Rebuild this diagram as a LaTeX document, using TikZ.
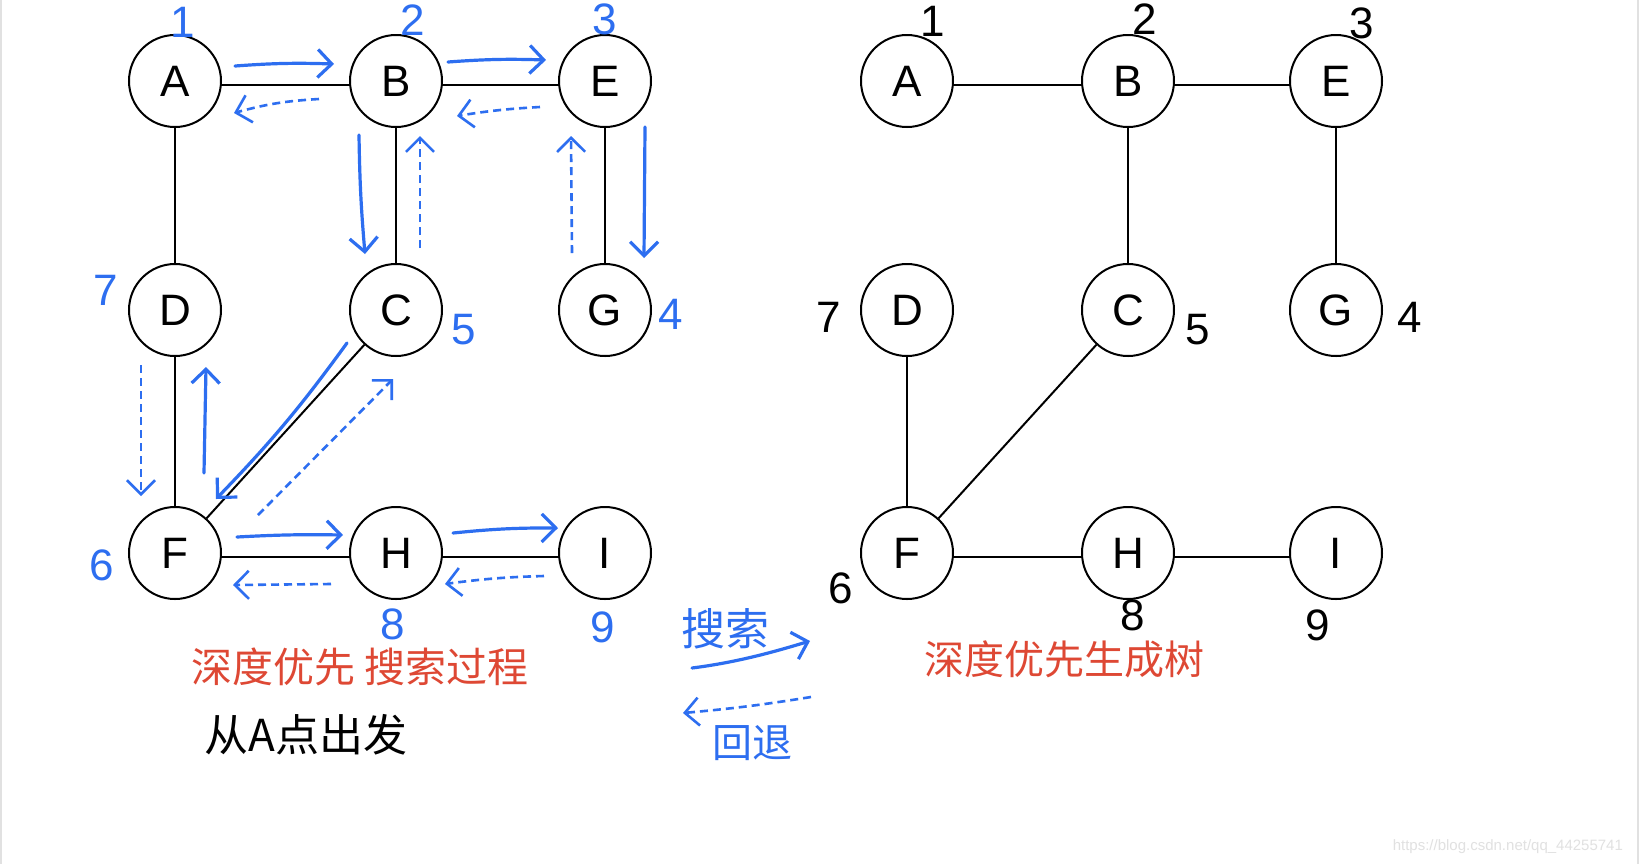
\documentclass[tikz,border=0pt]{standalone}
\usepackage{fontspec}
\setmainfont{Liberation Sans}
\newfontfamily\cjk{Noto Sans CJK SC}
\usetikzlibrary{arrows.meta}
\definecolor{hblue}{RGB}{45,110,240}
\definecolor{hred}{RGB}{222,72,52}
\definecolor{wm}{RGB}{225,225,225}
\begin{document}
\begin{tikzpicture}[x=0.5pt,y=-0.5pt,
  vtx/.style={circle,draw,line width=1pt,minimum size=46pt,inner sep=0pt,font=\fontsize{22}{24}\selectfont},
  edge/.style={line width=1pt},
  fwd/.style={hblue,line width=1.6pt,line cap=round,-{Straight Barb[length=7pt,width=14pt,line width=1.6pt]}},
  back/.style={hblue,line width=1.3pt,dash pattern=on 4pt off 2.5pt,-{Straight Barb[length=7pt,width=14pt,line width=1.3pt]}},
  bnum/.style={hblue,inner sep=0pt,font=\fontsize{22}{24}\selectfont},
  knum/.style={black,inner sep=0pt,font=\fontsize{22}{24}\selectfont},
  cjkred/.style={hred,inner sep=0pt,font=\cjk\fontsize{20.5}{24}\selectfont},
  cjkblue/.style={hblue,inner sep=0pt,font=\cjk\fontsize{22}{24}\selectfont},
  cjkblack/.style={black,inner sep=0pt,font=\cjk\fontsize{22}{24}\selectfont}]
\useasboundingbox (0,0) rectangle (1640,864);
\fill[white] (0,0) rectangle (1640,864);
\draw[wm,line width=1pt] (1,0) -- (1,864);
\draw[wm,line width=1pt] (1638,0) -- (1638,864);

% ---------- left graph ----------
\node[vtx] (A) at (175,81) {A};
\node[vtx] (B) at (396,81) {B};
\node[vtx] (E) at (605,81) {E};
\node[vtx] (D) at (175,310) {D};
\node[vtx] (C) at (396,310) {C};
\node[vtx] (G) at (605,310) {G};
\node[vtx] (F) at (175,553) {F};
\node[vtx] (H) at (396,553) {H};
\node[vtx] (I) at (605,553) {I};

\draw[edge] ([yshift=-2pt]A.east) -- ([yshift=-2pt]B.west);
\draw[edge] ([yshift=-2pt]B.east) -- ([yshift=-2pt]E.west);
\draw[edge] (A) -- (D);
\draw[edge] (B) -- (C);
\draw[edge] (E) -- (G);
\draw[edge] (D) -- (F);
\draw[edge] (C) -- (F);
\draw[edge] ([yshift=-2pt]F.east) -- ([yshift=-2pt]H.west);
\draw[edge] ([yshift=-2pt]H.east) -- ([yshift=-2pt]I.west);

% traversal arrows
\coordinate (ab1) at (235,66);  \coordinate (ab2) at (334,64);
\coordinate (ba1) at (319,99);  \coordinate (ba2) at (234,113);
\coordinate (be1) at (448,62);  \coordinate (be2) at (546,60);
\coordinate (eb1) at (540,107); \coordinate (eb2) at (457,116);
\coordinate (bc1) at (359,135); \coordinate (bc2) at (365,254);
\coordinate (cb1) at (420,248); \coordinate (cb2) at (420,136);
\coordinate (ge1) at (572,253); \coordinate (ge2) at (571,136);
\coordinate (eg1) at (645,127); \coordinate (eg2) at (644,258);
\coordinate (cf1) at (347,343); \coordinate (cf2) at (216,499);
\coordinate (fc1) at (258,515); \coordinate (fc2) at (393,379);
\coordinate (df1) at (141,365); \coordinate (df2) at (141,496);
\coordinate (fd1) at (204,473); \coordinate (fd2) at (206,367);
\coordinate (fh1) at (237,537); \coordinate (fh2) at (343,535);
\coordinate (hf1) at (331,584); \coordinate (hf2) at (233,585);
\coordinate (hi1) at (453,533); \coordinate (hi2) at (558,528);
\coordinate (ih1) at (544,576); \coordinate (ih2) at (445,584);

\draw[fwd] (ab1) to[bend left=3] (ab2);
\draw[back] (ba1) to[bend right=6] (ba2);
\draw[fwd] (be1) to[bend left=3] (be2);
\draw[back] (eb1) to[bend right=3] (eb2);
\draw[fwd] (bc1) to[bend right=2] (bc2);
\draw[back] (cb1) -- (cb2);
\draw[back] (ge1) -- (ge2);
\draw[fwd] (eg1) -- (eg2);
\draw[fwd] (cf1) to[bend left=4] (cf2);
\draw[back] (fc1) -- (fc2);
\draw[back] (df1) -- (df2);
\draw[fwd] (fd1) -- (fd2);
\draw[fwd] (fh1) to[bend left=2] (fh2);
\draw[back] (hf1) -- (hf2);
\draw[fwd] (hi1) to[bend left=3] (hi2);
\draw[back] (ih1) to[bend right=3] (ih2);

% blue order numbers
\node[bnum] (n1) at (183,22) {1};
\node[bnum] (n2) at (413,20) {2};
\node[bnum] (n3) at (605,19) {3};
\node[bnum] (n7) at (106,290) {7};
\node[bnum] (n5) at (464,330) {5};
\node[bnum] (n4) at (671,314) {4};
\node[bnum] (n6) at (102,565) {6};
\node[bnum] (n8) at (393,624) {8};
\node[bnum] (n9) at (603,627) {9};

% captions
\node[cjkred] (t1) at (360,667) {深度优先\hspace{5pt}搜索过程};
\node[cjkblack] (t2) at (306,735) {从A点出发};
\node[cjkblue] (t3) at (725,629) {搜索};
\coordinate (s1) at (692,668); \coordinate (s2) at (810,641);
\draw[fwd] (s1) .. controls (740,662) and (780,650) .. (s2);
\coordinate (r1) at (811,697); \coordinate (r2) at (683,713);
\draw[back] (r1) to[bend left=2] (r2);
\node[cjkblue,font=\cjk\fontsize{20}{24}\selectfont] (t4) at (752,743) {回退};

% ---------- right graph ----------
\node[vtx] (A2) at (907,81) {A};
\node[vtx] (B2) at (1128,81) {B};
\node[vtx] (E2) at (1336,81) {E};
\node[vtx] (D2) at (907,310) {D};
\node[vtx] (C2) at (1128,310) {C};
\node[vtx] (G2) at (1336,310) {G};
\node[vtx] (F2) at (907,553) {F};
\node[vtx] (H2) at (1128,553) {H};
\node[vtx] (I2) at (1336,553) {I};

\draw[edge] ([yshift=-2pt]A2.east) -- ([yshift=-2pt]B2.west);
\draw[edge] ([yshift=-2pt]B2.east) -- ([yshift=-2pt]E2.west);
\draw[edge] (B2) -- (C2);
\draw[edge] (E2) -- (G2);
\draw[edge] (D2) -- (F2);
\draw[edge] (C2) -- (F2);
\draw[edge] ([yshift=-2pt]F2.east) -- ([yshift=-2pt]H2.west);
\draw[edge] ([yshift=-2pt]H2.east) -- ([yshift=-2pt]I2.west);

\node[knum] (m1) at (933,21) {1};
\node[knum] (m2) at (1145,19) {2};
\node[knum] (m3) at (1362,23) {3};
\node[knum] (m7) at (829,317) {7};
\node[knum] (m5) at (1198,330) {5};
\node[knum] (m4) at (1410,317) {4};
\node[knum] (m6) at (841,588) {6};
\node[knum] (m8) at (1133,615) {8};
\node[knum] (m9) at (1318,625) {9};

\node[cjkred,font=\cjk\fontsize{20}{24}\selectfont] (t5) at (1064,659) {深度优先生成树};

\node[wm,font=\fontsize{7.5}{9}\selectfont,anchor=east] (wmk) at (1630,847) {https://blog.csdn.net/qq\_44255741};
\end{tikzpicture}
\end{document}
